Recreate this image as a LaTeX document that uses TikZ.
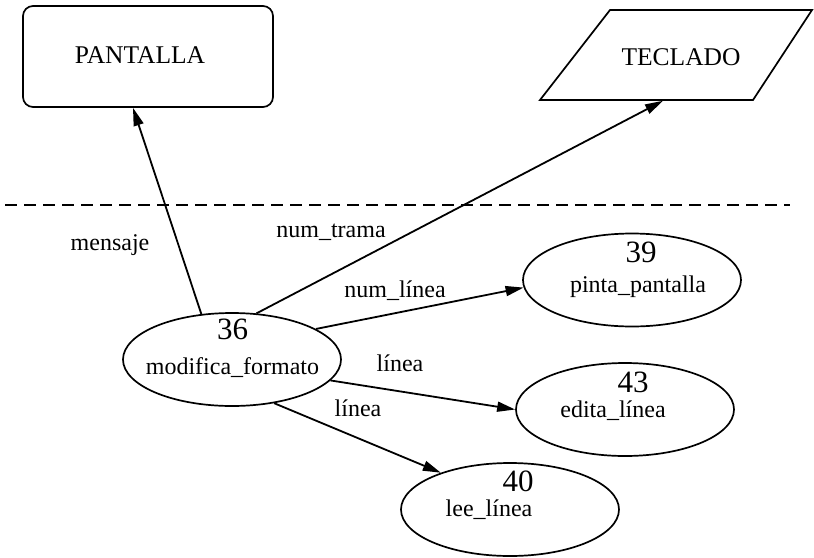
\documentclass[tikz,border=0pt]{standalone}
\usepackage{fontspec}
\setmainfont{Liberation Serif}
\usetikzlibrary{shapes.geometric,arrows.meta}
\begin{document}
\begin{tikzpicture}[x=1pt,y=-1pt,
  proc/.style={ellipse,draw,line width=1.7pt,inner sep=0pt,minimum width=218pt,minimum height=93pt},
  num/.style={anchor=base,font=\fontsize{31}{31}\selectfont,inner sep=0pt},
  txt/.style={anchor=base,font=\fontsize{24}{24}\selectfont,inner sep=0pt},
  big/.style={anchor=base,font=\fontsize{25.5}{25.5}\selectfont,inner sep=0pt},
  flow/.style={line width=1.8pt,-{Triangle[length=18pt,width=10pt]}},
  ext/.style={draw,line width=1.7pt,rounded corners=10pt,minimum width=250pt,minimum height=101pt,inner sep=0pt},
  devline/.style={draw,line width=1.7pt,line join=miter},
  sep/.style={line width=1.3pt,dash pattern=on 12pt off 7pt}
]
\useasboundingbox (0,0) rectangle (814,557);

% external entities
\node[ext] (pant) at (148,56.5) {};
\node[big] (pantt) at (140,63) {PANTALLA};
\path[devline] (540,100) -- (753,100) -- (812,10) -- (610,10) -- cycle;
\coordinate (tecb) at (663,100.8);
\node[big] (tect) at (681,65) {TECLADO};

% boundary
\draw[sep] (5,205) -- (790,205);

% processes
\node[proc] (e36) at (232,359.5) {};
\node[num] (n36) at (232.5,339) {36};
\node[txt] (t36) at (232.5,374) {modifica\_formato};

\node[proc] (e39) at (632,280) {};
\node[num] (n39) at (641,262) {39};
\node[txt] (t39) at (638,292) {pinta\_pantalla};

\node[proc] (e43) at (625,409.5) {};
\node[num] (n43) at (633,392) {43};
\node[txt] (t43) at (613,417) {edita\_línea};

\node[proc] (e40) at (510,509.5) {};
\node[num] (n40) at (518,491) {40};
\node[txt] (t40) at (489,516) {lee\_línea};

% flows
\draw[flow] (e36.124) -- ([xshift=-15pt]pant.south);
\draw[flow] (e36.62) -- (tecb);
\draw[flow] (e36.20) -- (e39.184);
\draw[flow] (e36.-12) -- (e43.180);
\draw[flow] (e36.-46) -- (e40.152);

% flow labels
\node[txt] (lmens) at (110,250) {mensaje};
\node[txt] (ltrama) at (331,237) {num\_trama};
\node[txt] (lnlin) at (395,297) {num\_línea};
\node[txt] (llin1) at (400,371) {línea};
\node[txt] (llin2) at (358,416) {línea};
\end{tikzpicture}
\end{document}
